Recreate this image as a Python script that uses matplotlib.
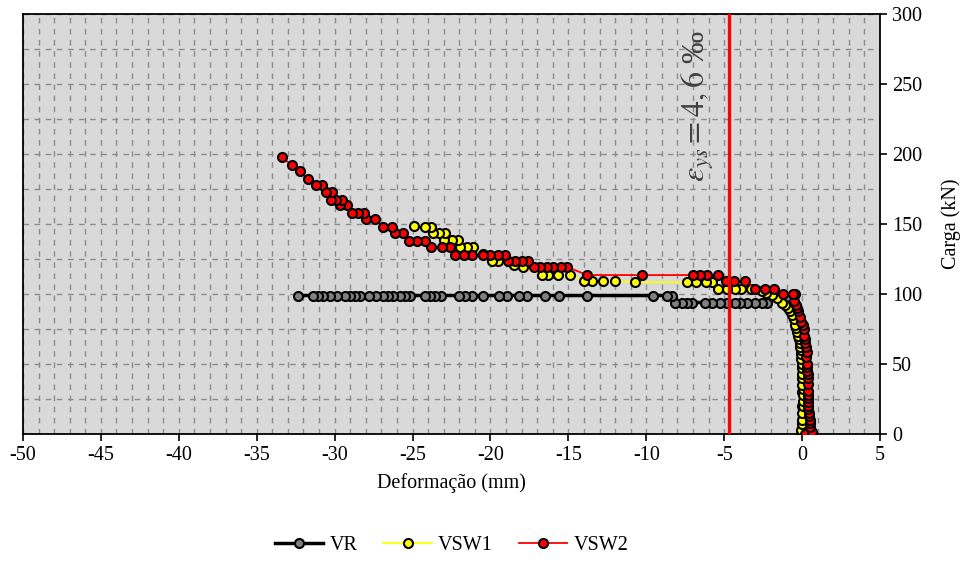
import numpy as np
import matplotlib
matplotlib.use("Agg")
import matplotlib.pyplot as plt
from matplotlib.ticker import MultipleLocator

plt.rcParams['font.family'] = ['Liberation Serif', 'DejaVu Serif']
plt.rcParams['mathtext.fontset'] = 'stix'
plt.rcParams['axes.unicode_minus'] = False

# VR (cinza)
vr_x = [0, 0, 0, 0, 0, 0, -0.05, -0.1, -0.2, -0.4, -0.7, -1.0, -1.5, -2.0,
        -2.27, -2.59, -3.02, -3.55, -3.98, -4.30, -4.83, -5.26, -5.80, -6.23,
        -7.08, -7.40, -7.72, -8.15,
        -8.36, -8.68, -9.54, -13.78, -15.58, -16.50, -17.67, -18.15, -18.95,
        -19.43, -20.46, -21.20, -21.63, -22.02, -23.17, -23.56, -23.88, -24.19,
        -25.16, -25.48, -25.80, -26.23, -26.55, -26.87, -27.34, -27.77, -28.37,
        -28.69, -29.01, -29.33, -29.83, -30.30, -30.72, -31.05, -31.37, -32.37]
vr_y = [0, 10, 20, 30, 40, 50, 60, 70, 80, 88, 94, 97, 99, 99,
        94, 94, 94, 94, 94, 94, 94, 94, 94, 94,
        94, 94, 94, 94,
        99, 99, 99, 99, 99, 99, 99, 99, 99,
        99, 99, 99, 99, 99, 99, 99, 99, 99,
        99, 99, 99, 99, 99, 99, 99, 99, 99,
        99, 99, 99, 99, 99, 99, 99, 99, 99]

# VSW1 (amarelo)
vsw1_x = [-0.1, -0.1, 0, 0, 0, 0.04, 0.04, 0.04, 0.04, 0, 0, 0, 0, -0.02,
          -0.05, -0.08, -0.1, -0.13, -0.16, -0.2, -0.25, -0.3, -0.38, -0.45,
          -0.55, -0.66, -0.78, -0.9, -1.1, -1.3, -1.6, -1.95, -2.3, -2.6, -3.3,
          -3.9, -4.3, -4.8, -5.4, -5.8, -6.2, -6.8, -7.4, -10.7, -12.0, -12.8,
          -13.5, -14.0, -14.9, -15.7, -16.3, -16.7, -17.9, -18.5, -19.5, -19.9,
          -20.5, -21.1, -21.5, -21.95, -22.06, -22.5, -23.0, -22.9, -23.3, -23.7,
          -23.8, -24.2, -24.9]
vsw1_y = [0, 3, 7, 10, 15, 20, 24, 28, 32, 35, 40, 43, 47, 50,
          54, 57, 60, 62, 65, 68, 70, 73, 76, 78,
          82, 85, 88, 90, 92, 94, 97, 99.3, 101, 102, 103.3,
          103.3, 103.3, 103.3, 103.3, 108.5, 108.5, 108.5, 108.5, 108.5, 109.3, 109.3,
          109.3, 109.3, 113.6, 113.6, 113.6, 113.6, 119.5, 121, 123.8, 123.8,
          128.5, 133.8, 133.8, 133.8, 138.6, 138.6, 138.6, 143.8, 143.8, 143.8,
          148, 148, 148.6]

# VSW2 (vermelho)
vsw2_x = [0.2, 0.6, 0.5, 0.5, 0.5, 0.45, 0.45, 0.4, 0.4, 0.4, 0.4, 0.4, 0.4,
          0.4, 0.35, 0.35, 0.3, 0.3, 0.3, 0.26, 0.3, 0.25, 0.19, 0.15, 0.1,
          0.13, 0.05, -0.05, -0.13, -0.24, -0.3, -0.4, -0.5, -0.45, -0.6,
          -1.2, -1.8, -2.4, -3.0, -3.7, -4.4, -4.9, -5.4, -6.1, -6.55, -7.0,
          -10.3, -13.8, -15.1, -15.5, -16.0, -16.4, -16.8, -17.2, -17.6, -18.0,
          -18.4, -18.85, -19.1, -19.5, -20.0, -20.5, -21.2, -21.7, -22.3, -22.6,
          -23.1, -23.8, -24.2, -24.7, -25.2, -25.6, -26.1, -26.3, -26.9, -27.4,
          -28.0, -28.1, -28.5, -28.9, -29.2, -29.65, -29.5, -29.9, -30.25, -30.2,
          -30.55, -30.8, -31.2, -31.7, -32.2, -32.75, -33.4]
vsw2_y = [0, 1.5, 5, 8, 10, 13, 15, 18, 20, 23, 26, 28, 31,
          36, 40, 43, 45, 48, 50, 55, 59, 62, 65, 68, 70,
          75, 78, 80, 84, 88, 90, 92, 95, 100, 100,
          100, 104, 104, 104, 109.5, 109.5, 109.5, 113.6, 113.6, 113.6, 113.6,
          113.6, 113.6, 119.5, 119.5, 119.5, 119.5, 119.5, 119.5, 123.8, 123.8,
          123.8, 123.8, 128, 128, 128, 128, 128, 128, 128, 133.5,
          133.5, 133.5, 138, 138, 138, 143.3, 143.3, 147.6, 147.6, 153.3,
          153.3, 158, 158, 158, 163.6, 163.6, 167, 167, 167, 173,
          173, 178, 178, 182, 188, 192, 198]

eps_ys_x = -4.7
eps_texto = r'$\varepsilon_{ys} = 4,6$ ‰'

fig = plt.figure(figsize=(9.7, 5.69), dpi=100)
ax = fig.add_axes([0.0237, 0.237, 0.8836, 0.7383])
ax.set_facecolor('#d9d9d9')

ax.plot(vr_x, vr_y, color='black', lw=2.5, marker='o', ms=6.5,
        mfc='#808080', mec='black', mew=1.5, label='VR', zorder=3)
ax.plot(vsw1_x, vsw1_y, color='#ffff00', lw=1.3, marker='o', ms=6.5,
        mfc='#ffff00', mec='black', mew=1.5, label='VSW1', zorder=4)
ax.plot(vsw2_x, vsw2_y, color='#ff0000', lw=1.3, marker='o', ms=6.5,
        mfc='#ff0000', mec='black', mew=1.5, label='VSW2', zorder=5)

ax.axvline(eps_ys_x, color='#ff0000', lw=2.4, zorder=6)
ax.text(-6.7, 234, eps_texto, rotation=90, ha='center', va='center',
        fontsize=23, color='#404040')

ax.set_xlim(-50, 5)
ax.set_ylim(0, 300)
ax.xaxis.set_major_locator(MultipleLocator(5))
ax.xaxis.set_minor_locator(MultipleLocator(1))
ax.yaxis.set_major_locator(MultipleLocator(50))
ax.yaxis.set_minor_locator(MultipleLocator(25))
ax.yaxis.tick_right()
ax.yaxis.set_label_position('right')

ax.grid(which='both', axis='both', color='#8c8c8c', lw=1.0, ls=(0, (4, 4)), zorder=0)
ax.set_axisbelow(True)

ax.tick_params(which='major', direction='out', length=5, width=1.2,
               labelsize=14.5, colors='black')
ax.tick_params(which='minor', length=0)
for s in ax.spines.values():
    s.set_color('black')
    s.set_linewidth(1.3)

ax.set_xlabel('Deformação (mm)', fontsize=14.5, labelpad=6)
ax.set_ylabel('Carga (kN)', fontsize=14.5, labelpad=14)

ax.legend(loc='center', bbox_to_anchor=(0.5, -0.264), ncol=3, frameon=False,
          fontsize=14.5, handlelength=2.4, columnspacing=1.3, handletextpad=0.3)

fig.savefig('out.png', dpi=100)
